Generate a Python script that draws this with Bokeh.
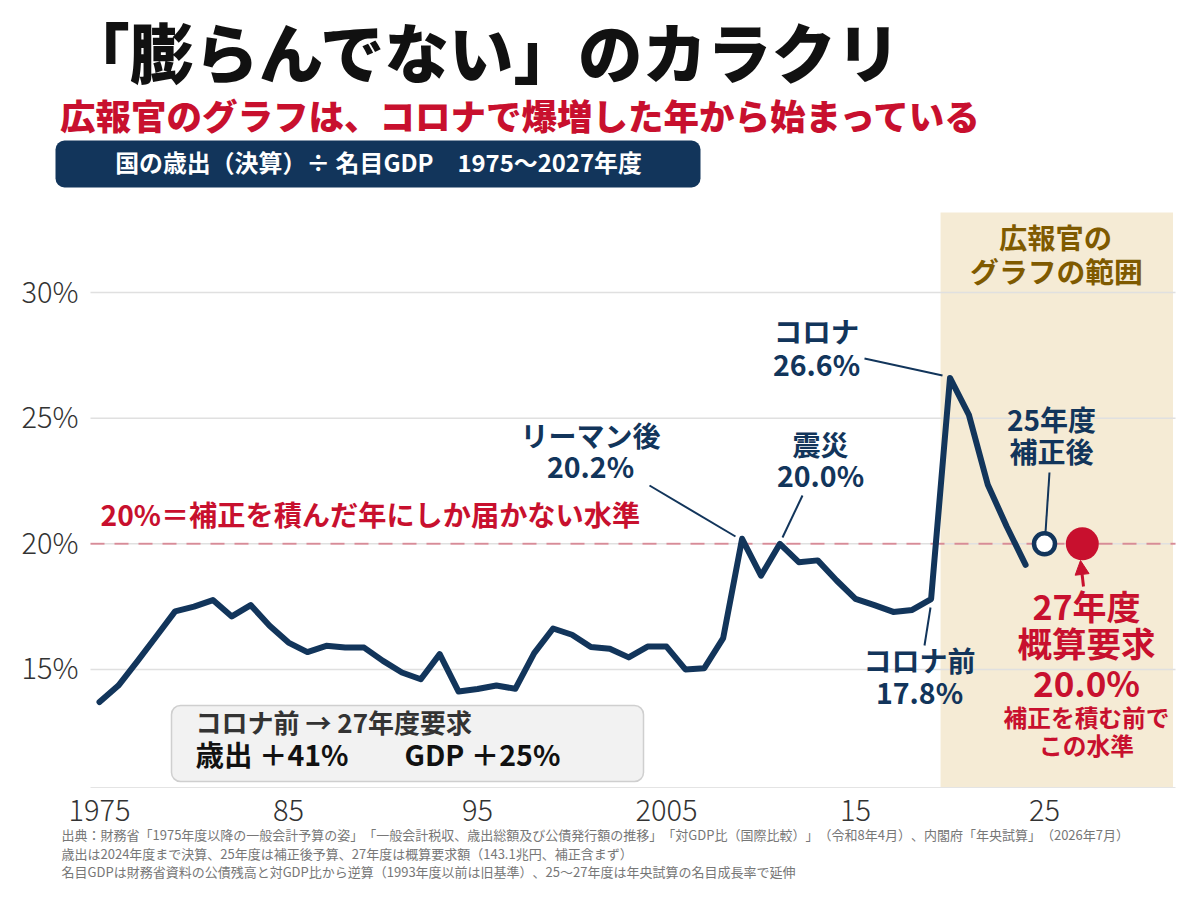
from bokeh.plotting import figure
from bokeh.models import (Label, Arrow, NormalHead, BoxAnnotation, FixedTicker,
                          Range1d, LinearAxis)
from bokeh.embed import file_html
from bokeh.resources import INLINE

# ---- data ----
years = list(range(1975, 2025))
ratio = [13.70, 14.36, 15.32, 16.31, 17.31, 17.50, 17.76, 17.11, 17.56, 16.74,
         16.07, 15.69, 15.94, 15.87, 15.87, 15.34, 14.88, 14.61, 15.61, 14.12,
         14.22, 14.36, 14.23, 15.65, 16.63, 16.38, 15.89, 15.82, 15.48, 15.91,
         15.91, 15.00, 15.05, 16.25, 20.20, 18.73, 20.00, 19.27, 19.34, 18.54,
         17.81, 17.56, 17.29, 17.37, 17.80, 26.60, 25.13, 22.35, 20.69, 19.16]
year_25 = [2025]
value_25 = [20.0]
year_27 = [2027]
value_27 = [20.0]
x_tick_values = [1975, 1985, 1995, 2005, 2015, 2025]
x_tick_labels = ["1975", "85", "95", "2005", "15", "25"]
y_tick_values = [15, 20, 25, 30]
y_tick_labels = ["15%", "20%", "25%", "30%"]
band_start = [2019.5]
band_end = [2031.8]
band_low = [10.3]
band_high = [33.18]
reference_level = 20

# ---- layout / style ----
W, H = 1190, 890
FL, FR, FT, FB = 90, 1175, 212, 787   # plot-area edges in page pixels
NAVY = "#12355B"
RED = "#C8102E"
GOLD = "#7F5A00"
FONT = "Noto Sans CJK JP"
HEAVY = "Noto Sans CJK JP Black"
LIGHT = "Noto Sans CJK JP Light"
ZW = "\u200b"


def year_at(px):
    return 1975 + (px - 99) / 18.9


def value_at(py):
    return 30 + (292 - py) / 25.13


p = figure(width=W, height=H, output_backend="svg", toolbar_location=None,
           x_range=Range1d(year_at(0), year_at(W)),
           y_range=Range1d(value_at(H), value_at(0)),
           x_axis_type=None, y_axis_type=None,
           min_border_left=0, min_border_right=0, min_border_top=0, min_border_bottom=0)
p.outline_line_color = None
p.background_fill_color = "white"
# the tick labels sit a little above their gridlines
p.extra_y_ranges["tick_labels"] = Range1d(value_at(H + 3), value_at(3))

xaxis = LinearAxis(fixed_location=value_at(FB), ticker=FixedTicker(ticks=x_tick_values),
                   major_label_overrides=dict(zip(x_tick_values, x_tick_labels)),
                   bounds=(year_at(FL), year_at(FR)), major_label_standoff=6)
yaxis = LinearAxis(fixed_location=year_at(FL), ticker=FixedTicker(ticks=y_tick_values),
                   y_range_name="tick_labels",
                   major_label_overrides=dict(zip(y_tick_values, y_tick_labels)),
                   major_label_standoff=6)
for ax in (xaxis, yaxis):
    ax.major_tick_line_color = None
    ax.minor_tick_line_color = None
    ax.major_label_text_font = LIGHT
    ax.major_label_text_font_size = "29px"
    ax.major_label_text_color = "#333333"
yaxis.axis_line_color = None
xaxis.axis_line_color = "#E4E4E4"
p.add_layout(xaxis, "below")
p.add_layout(yaxis, "left")

p.segment(x0=[year_at(FL)] * len(y_tick_values), x1=[year_at(FR)] * len(y_tick_values),
          y0=y_tick_values, y1=y_tick_values,
          line_color="#E0E0E0", line_width=1.5, level="underlay")
p.quad(left=band_start, right=band_end, bottom=band_low, top=band_high,
       fill_color="#F5EBD5", line_color=None, level="image")
p.line([year_at(FL), year_at(FR)], [reference_level, reference_level], line_color=RED, line_alpha=0.4,
       line_width=2, line_dash=[14, 10], level="underlay")
p.line(years, ratio, line_color=NAVY, line_width=6, line_join="round", line_cap="round")
p.scatter(year_25, value_25, size=21, fill_color="white", line_color=NAVY, line_width=4.5)
p.scatter(year_27, value_27, size=33, fill_color=RED, line_color=RED, line_width=0)


def sx(px):
    return px


def sy(py):
    return H - py


def rbox(x0, y0, x1, y1, fill, line=None):
    p.add_layout(BoxAnnotation(left=sx(x0), right=sx(x1), top=sy(y0), bottom=sy(y1),
                               left_units="screen", right_units="screen",
                               top_units="screen", bottom_units="screen",
                               fill_color=fill, fill_alpha=1, line_color=line,
                               line_alpha=1 if line else 0, line_width=1.5, border_radius=9,
                               level="annotation", editable=False))


def txt(x, y, text, size, color, align="center", style="bold", font=FONT):
    p.add_layout(Label(x=sx(x), y=sy(y - 0.07 * size), x_units="screen", y_units="screen", text=text,
                       text_font=font, text_font_size=f"{size}px", text_color=color,
                       text_font_style=style, text_align=align, text_baseline="middle",
                       level="overlay"))


def leader(x0, y0, x1, y1, color=NAVY, width=2, head=False):
    p.add_layout(Arrow(x_start=sx(x0), y_start=sy(y0), x_end=sx(x1), y_end=sy(y1),
                       start_units="screen", end_units="screen",
                       line_color=color, line_width=width,
                       end=NormalHead(size=14, fill_color=color, line_color=color) if head else None,
                       level="overlay"))


rbox(55, 140, 700, 187, NAVY)
rbox(171, 705, 643, 781, "#F2F2F2", "#CFCFCF")

txt(484, 54, "「膨らんでない」のカラクリ", 64.5, "#111111", style="normal", font=HEAVY)
txt(521, 116, "広報官のグラフは、コロナで爆増した年から始まっている", 35.5, RED, style="normal", font=HEAVY)
txt(378, 163, "国の歳出（決算）÷ 名目GDP　1975〜2027年度", 23.9, "white")

txt(1055, 238, "広報官の", 28.3, GOLD)
txt(1056, 272, "グラフの範囲", 28.8, GOLD)

txt(816, 332, "コロナ", 28.5, NAVY)
txt(816, 365, "26.6%", 28.5, NAVY)
txt(590, 436, "リーマン後", 28, NAVY)
txt(590, 467, "20.2%", 28.5, NAVY)
txt(820, 445, "震災", 28, NAVY)
txt(820, 476, "20.0%", 28.5, NAVY)
txt(1051, 420, "25年度", 28, NAVY)
txt(1051, 452, "補正後", 28, NAVY)
txt(919, 661, "コロナ前", 28, NAVY)
txt(919, 693, "17.8%", 28.5, NAVY)

txt(100, 515, "20%＝補正を積んだ年にしか届かない水準", 28.2, RED, align="left")
txt(1086, 607, "27年度", 34, RED)
txt(1086, 644, "概算要求", 34.5, RED)
txt(1086, 683, "20.0%", 35, RED)
txt(1086, 718, "補正を積む前で", 23.7, RED)
txt(1086, 746, "この水準", 23.7, RED)

txt(195, 723, "コロナ前 → 27年度要求", 26, "#333333", align="left")
txt(195, 755, "歳出 ＋41%", 28.5, "#111111", align="left")
txt(404, 755, "GDP ＋25%", 28.5, "#111111", align="left")

note_color = "#777777"
txt(61, 835, f"出典：財務省「1975年度以降の一般会計予算の姿」{ZW}「一般会計税収、歳出総額及び公債発行額の推移」{ZW}「対GDP比（国際比較）{ZW}」{ZW}（令和8年4月）{ZW}、内閣府「年央試算」{ZW}（2026年7月）",
    13, note_color, align="left", style="normal")
txt(61, 854, "歳出は2024年度まで決算、25年度は補正後予算、27年度は概算要求額（143.1兆円、補正含まず）",
    13, note_color, align="left", style="normal")
txt(61, 872, f"名目GDPは財務省資料の公債残高と対GDP比から逆算（1993年度以前は旧基準）{ZW}、25〜27年度は年央試算の名目成長率で延伸",
    13, note_color, align="left", style="normal")

leader(864, 358, 942, 375)
leader(649, 485, 735, 536)
leader(802, 495, 782, 537)
leader(924, 645, 930, 607)
leader(1049, 472, 1045, 532)
leader(1083, 586, 1080, 560, color=RED, width=3, head=True)

open("out.html", "w").write(file_html(p, INLINE))
